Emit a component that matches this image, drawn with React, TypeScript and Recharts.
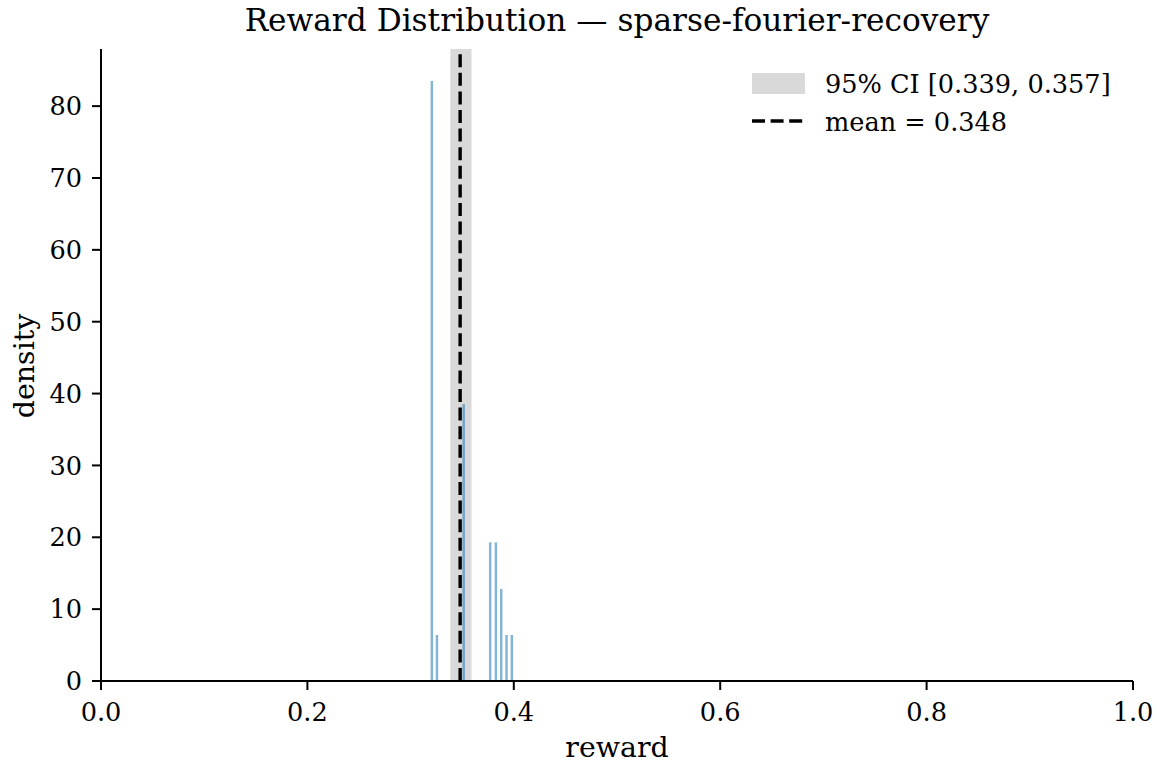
import React from 'react';
import {
  ComposedChart,
  Bar,
  XAxis,
  YAxis,
  ReferenceArea,
  ReferenceLine,
  Customized,
} from 'recharts';

// ---- data ----
const binCenters = [0.3209, 0.3258, 0.3517, 0.3774, 0.3829, 0.3881, 0.3932, 0.3984];
const densities = [83.5, 6.4, 38.5, 19.3, 19.3, 12.8, 6.4, 6.4];
const xTicks = [0, 0.2, 0.4, 0.6, 0.8, 1.0];
const yTicks = [0, 10, 20, 30, 40, 50, 60, 70, 80];
const ciLow = 0.3385;
const ciHigh = 0.359;
const meanValue = 0.348;
const ciLabel = '95% CI [0.339, 0.357]';
const meanLabel = 'mean = 0.348';
const titleText = 'Reward Distribution \u2014 sparse-fourier-recovery';
const xLabelText = 'reward';
const yLabelText = 'density';

const data = binCenters.map((x, i) => ({ x, density: densities[i] }));

const FONT = '"DejaVu Serif", serif';
const W = 1159;
const H = 763;
const TICK_FS = 25.6;
const LABEL_FS = 28.4;
const TITLE_FS = 31.2;

const Texts = () => (
  <g>
    <text x={617} y={31} textAnchor="middle" fontFamily={FONT} fontSize={TITLE_FS} fill="#000">
      {titleText}
    </text>
    <text x={617} y={757} textAnchor="middle" fontFamily={FONT} fontSize={LABEL_FS} fill="#000">
      {xLabelText}
    </text>
    <text
      x={34}
      y={366}
      textAnchor="middle"
      fontFamily={FONT}
      fontSize={LABEL_FS}
      fill="#000"
      transform="rotate(-90 34 366)"
    >
      {yLabelText}
    </text>
    <g transform="translate(740,60)">
      <rect x={12} y={13} width={53} height={21} fill="#d9d9d9" />
      <text x={85} y={32.5} fontFamily={FONT} fontSize={TICK_FS} fill="#000">
        {ciLabel}
      </text>
      <line x1={12} x2={65} y1={61} y2={61} stroke="#000" strokeWidth={3.4} strokeDasharray="13 5.6" />
      <text x={85} y={70.5} fontFamily={FONT} fontSize={TICK_FS} fill="#000">
        {meanLabel}
      </text>
    </g>
  </g>
);

export default function App() {
  return (
    <div style={{ position: 'absolute', left: 0, top: 0, width: W, height: H, background: '#fff' }}>
      <ComposedChart
        width={W}
        height={H}
        data={data}
        margin={{ top: 49, right: 26, left: 41, bottom: 0 }}
        style={{ fontFamily: FONT }}
      >
        <XAxis
          dataKey="x"
          type="number"
          domain={[0, 1]}
          ticks={xTicks}
          tickFormatter={(v: number) => v.toFixed(1)}
          height={82}
          tickSize={9}
          tickMargin={13}
          axisLine={{ stroke: '#000', strokeWidth: 2 }}
          tickLine={{ stroke: '#000', strokeWidth: 2 }}
          tick={{ fill: '#000', fontSize: TICK_FS, fontFamily: FONT }}
          allowDataOverflow
        />
        <YAxis
          type="number"
          domain={[0, 87.95]}
          ticks={yTicks}
          width={60}
          tickSize={9}
          tickMargin={10}
          axisLine={{ stroke: '#000', strokeWidth: 2 }}
          tickLine={{ stroke: '#000', strokeWidth: 2 }}
          tick={{ fill: '#000', fontSize: TICK_FS, fontFamily: FONT }}
          allowDataOverflow
        />
        <ReferenceArea x1={ciLow} x2={ciHigh} fill="#d9d9d9" fillOpacity={1} stroke="none" ifOverflow="extendDomain" />
        <Bar dataKey="density" barSize={2.5} fill="#1f77b4" fillOpacity={0.55} isAnimationActive={false} />
        <ReferenceLine x={meanValue} stroke="#000" strokeWidth={3.4} strokeDasharray="13 5.6" />
        <Customized component={Texts} />
      </ComposedChart>
    </div>
  );
}
